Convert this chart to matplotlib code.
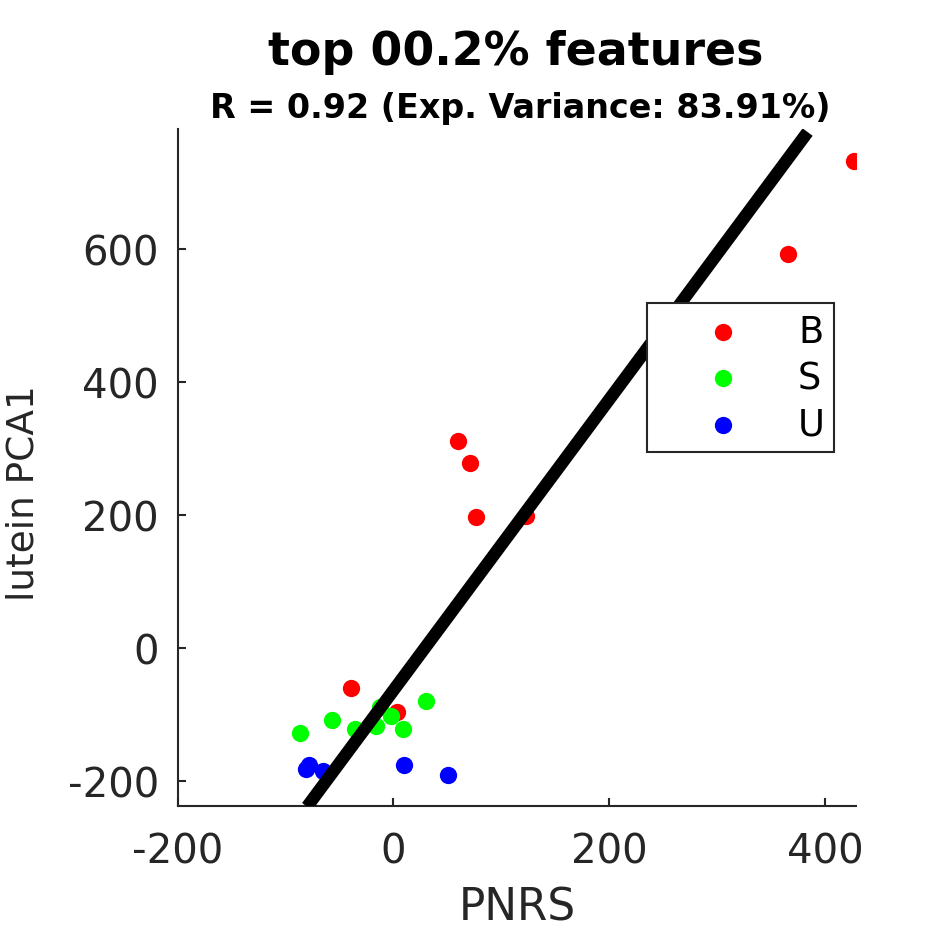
import numpy as np
import matplotlib
matplotlib.use('Agg')
import matplotlib.pyplot as plt

# groups
b_x = [427, 366, 60, 71, 77, 123, -39, 3]
b_y = [732, 592, 311, 278, 197, 198, -60, -96]
s_x = [-87, -57, -36, -16, -12, -2, 9, 30]
s_y = [-128, -108, -122, -117, -89, -102, -122, -80]
u_x = [-78, -81, -65, 10, 51]
u_y = [-177, -183, -185, -177, -192]

# fitted line end points
fit_x = [-80, 384]
fit_y = [-239, 776]

xt = [-200, 0, 200, 400]
yt = [-200, 0, 200, 400, 600]

fig = plt.figure(figsize=(9.45, 9.45), dpi=100)
ax = fig.add_axes([0.188, 0.146, 0.718, 0.716])
txt = '#262626'

ax.plot(fit_x, fit_y, color='k', lw=9, solid_capstyle='butt', zorder=3)
ax.scatter(b_x, b_y, s=155, color=(1, 0, 0), label='B', zorder=2, linewidths=0)
ax.scatter(s_x, s_y, s=155, color=(0, 1, 0), label='S', zorder=2, linewidths=0)
ax.scatter(u_x, u_y, s=155, color=(0, 0, 1), label='U', zorder=2, linewidths=0)

ax.set_xlim(-200, 429)
ax.set_ylim(-238, 780)
ax.set_xticks(xt)
ax.set_xticklabels([str(v) for v in xt])
ax.set_yticks(yt)
ax.set_yticklabels([str(v) for v in yt])
ax.tick_params(direction='in', length=6, width=1.5, colors=txt, labelsize=29)
ax.tick_params(axis='x', pad=18)
ax.tick_params(axis='y', pad=13.5)
for side in ['top', 'right']:
    ax.spines[side].set_visible(False)
for side in ['left', 'bottom']:
    ax.spines[side].set_color(txt)
    ax.spines[side].set_linewidth(1.5)

ax.set_xlabel('PNRS', fontsize=31.5, color=txt)
ax.xaxis.set_label_coords(0.5, -0.118)
ax.set_ylabel('lutein PCA1', fontsize=27, color=txt)
ax.yaxis.set_label_coords(-0.2, 0.464)

fig.text(0.546, 0.931, 'top 00.2% features', fontsize=33, fontweight='bold', ha='center', va='baseline')
fig.text(0.550, 0.875, 'R = 0.92 (Exp. Variance: 83.91%)', fontsize=24, fontweight='bold', ha='center', va='baseline')

leg = ax.legend(loc='upper left', bbox_to_anchor=(0.692, 0.743), fontsize=26.5, frameon=True,
                fancybox=False, edgecolor=txt, handletextpad=0.25, borderpad=0.25,
                labelspacing=0.26, handlelength=3.6, borderaxespad=0, markerfirst=True)
leg.get_frame().set_linewidth(1.5)
leg.get_frame().set_alpha(1)

fig.savefig('out.png', dpi=100)
